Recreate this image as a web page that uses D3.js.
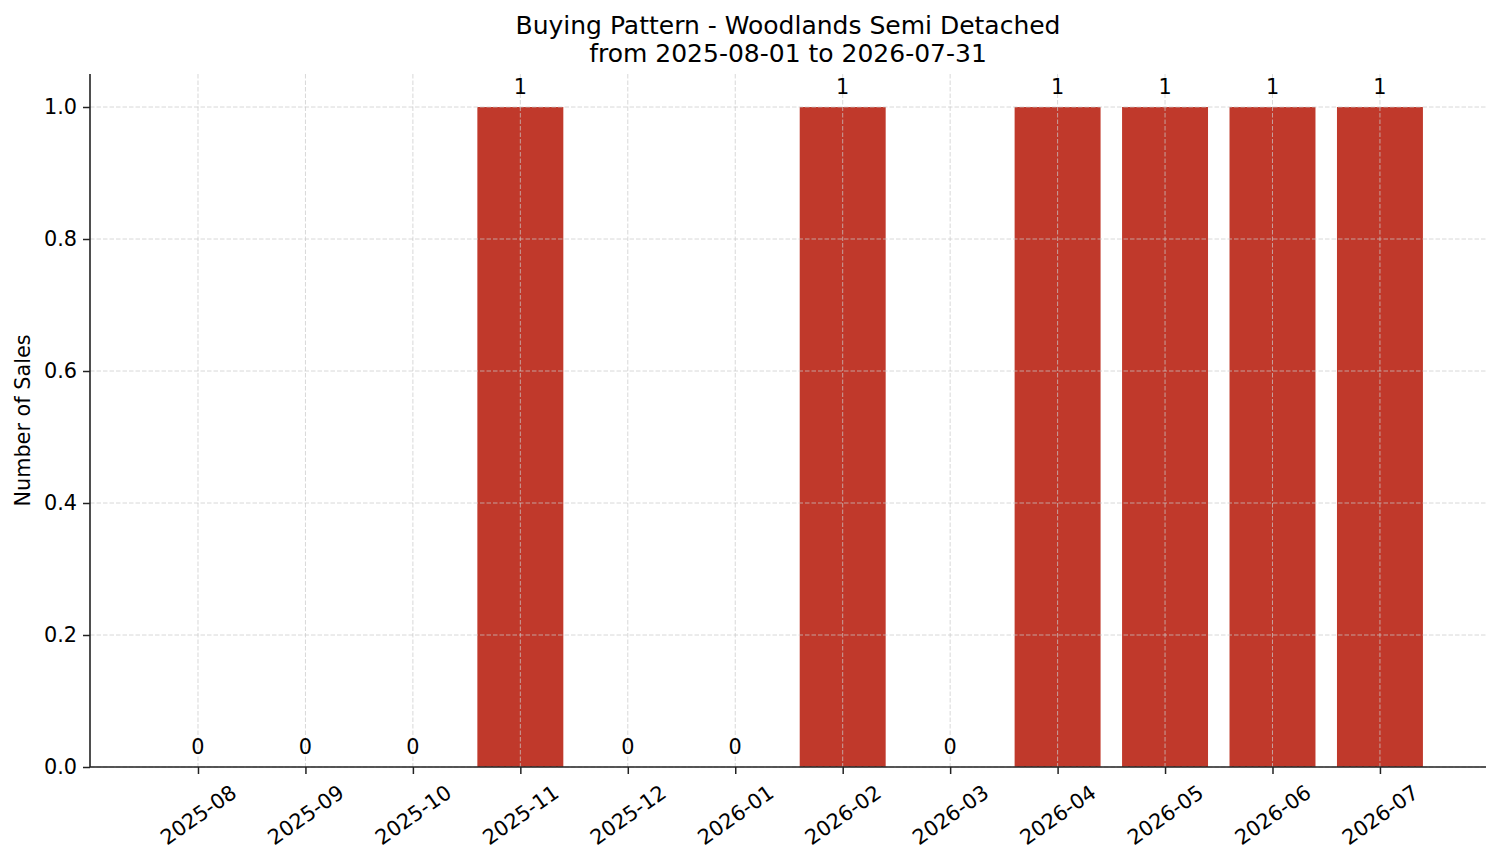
<!DOCTYPE html>
<html><head><meta charset="utf-8">
<script src="https://cdn.jsdelivr.net/npm/d3@7"></script>
<style>body{margin:0;background:#fff}svg{display:block}text{font-family:"DejaVu Sans",sans-serif;fill:#000}</style>
</head><body>
<svg id="c" width="1501" height="863"></svg>
<script>
const months = ["2025-08","2025-09","2025-10","2025-11","2025-12","2026-01","2026-02","2026-03","2026-04","2026-05","2026-06","2026-07"];
const sales = [0,0,0,1,0,0,1,0,1,1,1,1];
const yTicks = [0,0.2,0.4,0.6,0.8,1.0];
const titleLines = ["Buying Pattern - Woodlands Semi Detached","from 2025-08-01 to 2026-07-31"];
const yLabel = "Number of Sales";

const svg = d3.select("#c");
const L=90,R=1486,T=74,B=767;
const n=months.length;
const x = d3.scaleLinear().domain([-1.005, n-1+0.987]).range([L,R]);
const y = d3.scaleLinear().domain([0,1.05]).range([B,T]);
const bw = x(0.8)-x(0);
const FS = 20.8;

// bars
svg.append("g").selectAll("rect").data(sales).join("rect")
  .attr("x",(d,i)=>x(i)-bw/2).attr("width",bw)
  .attr("y",d=>y(d)).attr("height",d=>B-y(d))
  .attr("fill","#c0392b");

// grid (on top)
const g = svg.append("g").attr("stroke","#c8c8c8").attr("stroke-opacity",0.8).attr("stroke-width",0.9).attr("stroke-dasharray","4.5,2");
months.forEach((m,i)=>g.append("line").attr("x1",x(i)).attr("x2",x(i)).attr("y1",T).attr("y2",B));
yTicks.forEach(t=>g.append("line").attr("x1",L).attr("x2",R).attr("y1",y(t)).attr("y2",y(t)));

// value labels
svg.append("g").selectAll("text").data(sales).join("text")
  .attr("x",(d,i)=>x(i)).attr("y",d=>y(d)-13)
  .attr("text-anchor","middle").attr("font-size",FS).text(d=>d);

// axes
const xa = svg.append("g").attr("transform",`translate(0,${B})`)
  .call(d3.axisBottom(x).tickValues(d3.range(n)).tickFormat(i=>months[i]).tickSize(7).tickPadding(5));
xa.select(".domain").remove();
xa.selectAll("text").attr("font-size",FS).attr("font-family","DejaVu Sans").attr("text-anchor","middle")
  .attr("y",0).attr("dy",0).attr("dominant-baseline","central")
  .attr("transform","translate(0,48) rotate(-35)");
const ya = svg.append("g").attr("transform",`translate(${L},0)`)
  .call(d3.axisLeft(y).tickValues(yTicks).tickFormat(d3.format(".1f")).tickSize(7).tickPadding(6));
ya.select(".domain").remove();
ya.selectAll("text").attr("font-size",FS).attr("font-family","DejaVu Sans");
svg.selectAll(".tick line").attr("stroke","#222").attr("stroke-width",1.5);
svg.append("line").attr("x1",L).attr("x2",L).attr("y1",T).attr("y2",B).attr("stroke","#222").attr("stroke-width",1.6);
svg.append("line").attr("x1",L).attr("x2",R).attr("y1",B).attr("y2",B).attr("stroke","#222").attr("stroke-width",1.6);

// title
svg.append("text").attr("x",(L+R)/2).attr("y",34).attr("text-anchor","middle").attr("font-size",25).text(titleLines[0]);
svg.append("text").attr("x",(L+R)/2).attr("y",62).attr("text-anchor","middle").attr("font-size",25).text(titleLines[1]);
svg.append("text").attr("transform",`translate(30,${(T+B)/2}) rotate(-90)`).attr("text-anchor","middle").attr("font-size",FS).text(yLabel);
</script>
</body></html>
